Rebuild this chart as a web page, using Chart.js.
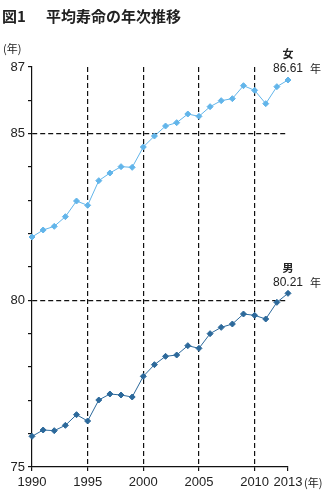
<!DOCTYPE html>
<html>
<head>
<meta charset="utf-8">
<script src="https://cdn.jsdelivr.net/npm/chart.js@4.4.1/dist/chart.umd.min.js"></script>
<style>
  html, body { margin: 0; padding: 0; background: #fff; }
  #wrap { position: relative; width: 329px; height: 498px; }
</style>
</head>
<body>
<div id="wrap"><canvas id="lifeChart" width="329" height="498"></canvas></div>
<script>
// 平均寿命 (年)
var years = [1990, 1991, 1992, 1993, 1994, 1995, 1996, 1997, 1998, 1999, 2000, 2001,
             2002, 2003, 2004, 2005, 2006, 2007, 2008, 2009, 2010, 2011, 2012, 2013];
var female = [81.90, 82.11, 82.22, 82.51, 82.98, 82.85, 83.59, 83.82, 84.01, 83.99, 84.60, 84.93,
              85.23, 85.33, 85.59, 85.52, 85.81, 85.99, 86.05, 86.44, 86.30, 85.90, 86.41, 86.61];
var male = [75.92, 76.11, 76.09, 76.25, 76.57, 76.38, 77.01, 77.19, 77.16, 77.10, 77.72, 78.07,
            78.32, 78.36, 78.64, 78.56, 79.00, 79.19, 79.29, 79.59, 79.55, 79.44, 79.94, 80.21];
var xTicks = [1990, 1995, 2000, 2005, 2010, 2013];
var yLabels = [75, 80, 85, 87];
var yGrid = [80, 85];
var seriesNames = ['女', '男'];

var numFont = '"Liberation Sans", Arial, sans-serif';
var jpFont = '"Noto Sans CJK JP", sans-serif';

function toPoints(vals) {
    return vals.map(function (v, i) { return { x: years[i], y: v }; });
}

// titles and end labels
var textPlugin = {
    id: 'texts',
    afterDraw: function (chart) {
        var ctx = chart.ctx;
        var xs = chart.scales.x, ys = chart.scales.y;
        ctx.save();
        ctx.fillStyle = '#222';
        ctx.textBaseline = 'middle';
        ctx.textAlign = 'left';
        ctx.font = 'bold 15px ' + jpFont;
        ctx.fillText('図1', 2, 16);
        ctx.fillText('平均寿命の年次推移', 46, 16);

        ctx.font = '11px ' + jpFont;
        ctx.fillText('(年)', 3, 49);

        var lastX = xs.getPixelForValue(years[years.length - 1]);
        ctx.fillText('(年)', lastX + 16, 483);

        var ends = [female[female.length - 1], male[male.length - 1]];
        ends.forEach(function (v, i) {
            var py = ys.getPixelForValue(v);
            ctx.textAlign = 'center';
            ctx.font = 'bold 11px ' + jpFont;
            ctx.fillText(seriesNames[i], lastX, py - 26);
            ctx.textAlign = 'left';
            ctx.font = '12px ' + numFont;
            ctx.fillText(v.toFixed(2), lastX - 15, py - 11);
            ctx.font = '11px ' + jpFont;
            ctx.fillText('年', lastX + 22, py - 11);
        });
        ctx.restore();
    }
};

var ctx = document.getElementById('lifeChart').getContext('2d');
var lifeChart = new Chart(ctx, {
    type: 'line',
    data: {
        datasets: [{
            label: seriesNames[0],
            data: toPoints(female),
            borderColor: '#62b5ea',
            backgroundColor: '#62b5ea',
            borderWidth: 1,
            pointStyle: 'rectRot',
            pointRadius: 3,
            pointHoverRadius: 3,
            tension: 0,
            clip: false
        }, {
            label: seriesNames[1],
            data: toPoints(male),
            borderColor: '#2c699b',
            backgroundColor: '#2c699b',
            borderWidth: 1,
            pointStyle: 'rectRot',
            pointRadius: 3,
            pointHoverRadius: 3,
            tension: 0,
            clip: false
        }]
    },
    options: {
        responsive: false,
        animation: false,
        layout: { padding: { top: 67, right: 41, left: 0, bottom: 0 } },
        plugins: {
            legend: { display: false },
            tooltip: { enabled: false }
        },
        scales: {
            x: {
                type: 'linear',
                min: 1990,
                max: 2013,
                afterBuildTicks: function (s) {
                    s.ticks = xTicks.map(function (v) { return { value: v }; });
                },
                afterFit: function (s) { s.height = 31; },
                ticks: {
                    autoSkip: false,
                    maxRotation: 0,
                    padding: 4,
                    color: '#222',
                    font: { family: numFont, size: 13 },
                    callback: function (v) { return String(v); }
                },
                grid: {
                    color: function (c) {
                        if (!c.tick) return 'transparent';
                        var v = c.tick.value;
                        return (v > 1990 && v < 2013) ? '#111' : 'transparent';
                    },
                    lineWidth: 1.2,
                    tickColor: '#111',
                    tickLength: 4,
                    tickBorderDash: []
                },
                border: {
                    color: '#111',
                    width: 1.2,
                    dash: function (c) { return c.tick ? [5, 3] : []; }
                }
            },
            y: {
                min: 75,
                max: 87,
                afterFit: function (s) { s.width = 32; },
                ticks: {
                    stepSize: 1,
                    autoSkip: false,
                    padding: 3,
                    color: '#222',
                    font: { family: numFont, size: 13 },
                    callback: function (v) { return yLabels.indexOf(v) >= 0 ? String(v) : ''; }
                },
                grid: {
                    color: function (c) {
                        if (!c.tick) return 'transparent';
                        return yGrid.indexOf(c.tick.value) >= 0 ? '#111' : 'transparent';
                    },
                    lineWidth: 1.2,
                    tickColor: '#111',
                    tickLength: 4,
                    tickBorderDash: []
                },
                border: {
                    color: '#111',
                    width: 1.2,
                    dash: function (c) { return c.tick ? [5, 3] : []; }
                }
            }
        }
    },
    plugins: [textPlugin]
});
</script>
</body>
</html>
